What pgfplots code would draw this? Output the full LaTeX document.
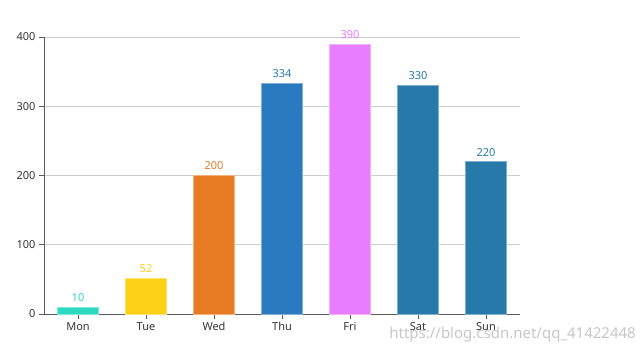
\documentclass[border=0pt]{standalone}
\usepackage{pgfplots}
\pgfplotsset{compat=1.18}
\usepackage{fontspec}
\setmainfont{Noto Sans}
\definecolor{cMon}{HTML}{2ED9C3}
\definecolor{cTue}{HTML}{FCD116}
\definecolor{cWed}{HTML}{E87C25}
\definecolor{cThu}{HTML}{2A7ABF}
\definecolor{cFri}{HTML}{E87EFF}
\definecolor{cSat}{HTML}{2779AA}
\definecolor{cSun}{HTML}{2779AA}
\definecolor{axc}{HTML}{333333}
\begin{document}
\begin{tikzpicture}[x=1pt,y=1pt]
\useasboundingbox (0,0) rectangle (642,355);
\begin{axis}[
  at={(44pt,41pt)}, anchor=south west,
  scale only axis, width=476pt, height=277pt,
  xmin=-0.5, xmax=6.5, ymin=0, ymax=400,
  ytick={0,100,200,300,400},
  xtick={0,1,2,3,4,5,6},
  xticklabels={Mon,Tue,Wed,Thu,Fri,Sat,Sun},
  ymajorgrids, grid style={color=black!20, line width=0.8pt},
  axis x line*=bottom, axis y line*=left,
  axis line style={-, color=axc!80, line width=0.9pt},
  tick align=outside, major tick length=5pt,
  tick style={color=axc!80, line width=0.8pt},
  ticklabel style={font=\fontsize{11}{13}\selectfont, color=axc},
  /pgf/number format/assume math mode=true,
  ybar, bar width=41pt, bar shift=0pt,
  nodes near coords,
  every node near coord/.append style={font=\fontsize{11}{13}\selectfont, yshift=2pt},
  clip=false,
]
\addplot[fill=cMon, draw=cMon!60, every node near coord/.append style={color=cMon}] coordinates {(0,10)};
\addplot[fill=cTue, draw=cTue!60, every node near coord/.append style={color=cTue}] coordinates {(1,52)};
\addplot[fill=cWed, draw=cWed!60, every node near coord/.append style={color=cWed}] coordinates {(2,200)};
\addplot[fill=cThu, draw=cThu!60, every node near coord/.append style={color=cThu}] coordinates {(3,334)};
\addplot[fill=cFri, draw=cFri!60, every node near coord/.append style={color=cFri}] coordinates {(4,390)};
\addplot[fill=cSat, draw=cSat!60, every node near coord/.append style={color=cSat}] coordinates {(5,330)};
\addplot[fill=cSun, draw=cSun!60, every node near coord/.append style={color=cSun}] coordinates {(6,220)};
\end{axis}
\node[anchor=east, color=black!22, font=\fontsize{15}{17}\selectfont, inner sep=0pt] at (636,20) {https://blog.csdn.net/qq\_41422448};
\end{tikzpicture}
\end{document}
